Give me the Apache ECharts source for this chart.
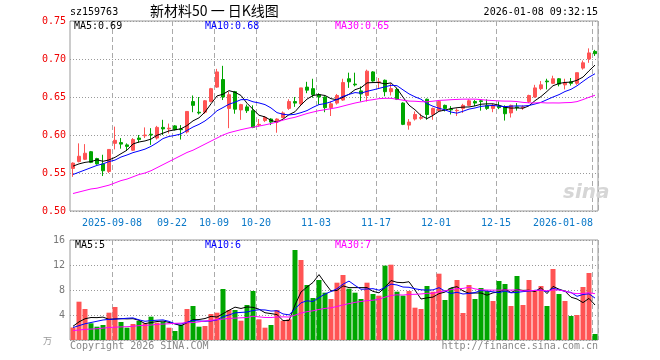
<!DOCTYPE html>
<html><head><meta charset="utf-8">
<script src="https://cdn.jsdelivr.net/npm/echarts@6/dist/echarts.min.js"></script>
<style>html,body{margin:0;padding:0;background:#fff}#c{width:660px;height:360px}</style>
</head><body><div id="c"></div>
<script>
const dates = [
'2025-08-28','2025-08-29','2025-09-01','2025-09-02','2025-09-03','2025-09-04','2025-09-05',
'2025-09-08','2025-09-09','2025-09-10','2025-09-11','2025-09-12',
'2025-09-15','2025-09-16','2025-09-17','2025-09-18','2025-09-19',
'2025-09-22','2025-09-23','2025-09-24','2025-09-25','2025-09-26',
'2025-09-29','2025-09-30',
'2025-10-09','2025-10-10',
'2025-10-13','2025-10-14','2025-10-15','2025-10-16','2025-10-17',
'2025-10-20','2025-10-21','2025-10-22','2025-10-23','2025-10-24',
'2025-10-27','2025-10-28','2025-10-29','2025-10-30','2025-10-31',
'2025-11-03','2025-11-04','2025-11-05','2025-11-06','2025-11-07',
'2025-11-10','2025-11-11','2025-11-12','2025-11-13','2025-11-14',
'2025-11-17','2025-11-18','2025-11-19','2025-11-20','2025-11-21',
'2025-11-24','2025-11-25','2025-11-26','2025-11-27','2025-11-28',
'2025-12-01','2025-12-02','2025-12-03','2025-12-04','2025-12-05',
'2025-12-08','2025-12-09','2025-12-10','2025-12-11','2025-12-12',
'2025-12-15','2025-12-16','2025-12-17','2025-12-18','2025-12-19',
'2025-12-22','2025-12-23','2025-12-24','2025-12-25','2025-12-26',
'2025-12-29','2025-12-30','2025-12-31',
'2026-01-05','2026-01-06','2026-01-07','2026-01-08'];

const openP = [0.556,0.565,0.568,0.578,0.569,0.562,0.552,0.589,0.590,0.587,
0.580,0.596,0.599,0.601,0.596,0.610,0.608,0.612,0.608,0.604,
0.644,0.630,0.630,0.644,0.663,0.673,0.635,0.657,0.633,0.637,
0.632,0.613,0.619,0.621,0.617,0.623,0.635,0.644,0.641,0.663,
0.661,0.653,0.650,0.636,0.642,0.646,0.674,0.667,0.658,0.652,
0.683,0.669,0.672,0.657,0.660,0.642,0.613,0.621,0.622,0.647,
0.627,0.632,0.639,0.634,0.632,0.635,0.639,0.644,0.645,0.639,
0.635,0.638,0.637,0.629,0.637,0.636,0.644,0.650,0.661,0.671,
0.668,0.674,0.666,0.670,0.668,0.688,0.700,0.710];
const closeP = [0.563,0.572,0.576,0.564,0.562,0.553,0.581,0.593,0.588,0.585,
0.594,0.594,0.600,0.600,0.610,0.608,0.609,0.607,0.607,0.631,
0.639,0.629,0.645,0.661,0.683,0.650,0.653,0.634,0.640,0.632,
0.610,0.614,0.623,0.617,0.621,0.629,0.644,0.642,0.662,0.659,
0.653,0.650,0.636,0.641,0.652,0.669,0.670,0.666,0.654,0.684,
0.671,0.670,0.657,0.661,0.647,0.614,0.617,0.627,0.623,0.627,
0.635,0.644,0.635,0.633,0.6325,0.639,0.645,0.642,0.644,0.635,
0.639,0.636,0.628,0.639,0.636,0.637,0.652,0.662,0.666,0.670,
0.674,0.667,0.669,0.668,0.682,0.695,0.708,0.707];
const lowP = [0.545,0.564,0.567,0.563,0.561,0.546,0.550,0.581,0.582,0.580,
0.579,0.590,0.596,0.587,0.594,0.600,0.602,0.606,0.594,0.602,
0.630,0.627,0.628,0.643,0.662,0.646,0.609,0.628,0.620,0.629,
0.609,0.611,0.617,0.613,0.603,0.622,0.633,0.637,0.639,0.655,
0.649,0.640,0.630,0.625,0.640,0.645,0.662,0.664,0.644,0.644,
0.670,0.662,0.651,0.652,0.646,0.613,0.607,0.619,0.620,0.620,
0.620,0.631,0.631,0.627,0.625,0.629,0.638,0.638,0.632,0.633,
0.630,0.634,0.619,0.623,0.632,0.633,0.642,0.649,0.659,0.660,
0.667,0.664,0.660,0.665,0.666,0.686,0.695,0.704];
const highP = [0.564,0.589,0.588,0.579,0.570,0.574,0.581,0.611,0.596,0.589,
0.596,0.600,0.610,0.609,0.612,0.620,0.615,0.613,0.613,0.631,
0.652,0.650,0.646,0.662,0.687,0.691,0.657,0.658,0.641,0.640,
0.639,0.621,0.625,0.622,0.622,0.631,0.647,0.650,0.662,0.670,
0.674,0.655,0.651,0.644,0.654,0.674,0.682,0.682,0.664,0.686,
0.684,0.675,0.673,0.668,0.662,0.643,0.621,0.631,0.628,0.648,
0.636,0.646,0.640,0.638,0.635,0.641,0.647,0.646,0.647,0.647,
0.641,0.644,0.639,0.640,0.642,0.639,0.653,0.666,0.671,0.674,
0.678,0.675,0.674,0.675,0.682,0.698,0.714,0.712];

// volume, 万
const volume = [2.0,6.13,4.96,2.67,2.13,2.4,4.37,5.28,2.88,1.97,
2.56,3.04,2.67,3.73,2.77,2.93,1.97,1.44,2.4,4.96,
5.44,2.13,2.24,4.16,4.37,8.16,4.8,4.8,3.09,5.6,
7.84,3.31,1.97,2.4,4.8,3.09,3.31,14.4,12.8,8.8,
6.72,9.6,7.57,6.56,9.17,10.4,8.21,7.57,6.56,9.17,
7.36,7.09,11.9,12.05,7.73,7.09,7.84,5.17,4.96,8.64,
7.73,10.61,6.4,8.32,9.6,4.32,8.8,6.56,8.32,7.84,
6.24,9.44,8.96,5.44,10.24,5.6,9.6,7.84,8.64,5.44,
11.36,7.36,6.24,3.84,4.0,8.48,10.72,0.96];

// moving-average values before enough history exists
const ma5Early = [0.559,0.562,0.564,0.565];
const ma10Early = [0.548,0.551,0.554,0.557,0.560,0.562,0.565,0.567,0.571];
const ma30Early = [0.523,0.525,0.527,0.529,0.530,0.532,0.534,0.537,0.540,0.542,
0.545,0.548,0.550,0.553,0.557,0.561,0.565,0.569,0.573,0.577,
0.580,0.584,0.588,0.592,0.596,0.600,0.603,0.605,0.607];
const volMa5Early = [2.2,2.9,3.4,3.6];
const volMa10Early = [2.0,2.3,2.6,2.8,3.0,3.2,3.3,3.35,3.4];
const volMa30Early = [1.5,1.6,1.7,1.75,1.8,1.9,2.0,2.05,2.1,2.13,
2.2,2.3,2.35,2.4,2.5,2.55,2.6,2.67,2.7,2.75,
2.8,2.9,3.05,3.15,3.25,3.35,3.45,3.5,3.55];

const tickDates = ['2025-09-08','2025-09-22','2025-10-09','2025-10-20','2025-11-03','2025-11-17','2025-12-01','2025-12-15','2026-01-08'];
const tickLabels = ['2025-09-08','09-22','10-09','10-20','11-03','11-17','12-01','12-15','2026-01-08'];

const legendPrice = ['MA5:0.69','MA10:0.68','MA30:0.65'];
const legendVol = ['MA5:5','MA10:6','MA30:7'];

const RED = '#ff5454', GREEN = '#00a600';
const MONO = 'DejaVu Sans Mono';

function movingAvg(src, n, early) {
  return src.map((v, i) => {
    if (i < n - 1) return early[i];
    let s = 0;
    for (let k = i - n + 1; k <= i; k++) s += src[k];
    return s / n;
  });
}

const candles = dates.map((d, i) => [openP[i], closeP[i], lowP[i], highP[i]]);
const ma5 = movingAvg(closeP, 5, ma5Early);
const ma10 = movingAvg(closeP, 10, ma10Early);
const ma30 = movingAvg(closeP, 30, ma30Early);
const vma5 = movingAvg(volume, 5, volMa5Early);
const vma10 = movingAvg(volume, 10, volMa10Early);
const vma30 = movingAvg(volume, 30, volMa30Early);
const volData = volume.map((v, i) => ({
  value: v,
  itemStyle: { color: closeP[i] >= openP[i] ? RED : GREEN }
}));

const isTick = (idx, val) => tickDates.indexOf(val !== undefined ? val : dates[idx]) >= 0;

const vSplit = { show: true, interval: isTick, lineStyle: { color: '#aaa', type: [5, 3], width: 1 } };

const chart = echarts.init(document.getElementById('c'), null, { renderer: 'canvas' });
const lineS = (name, data, color, xi, yi) => ({
  name, type: 'line', data, xAxisIndex: xi, yAxisIndex: yi, symbol: 'none',
  showSymbol: false, smooth: false, lineStyle: { color, width: 1 }, z: 3, silent: true
});

chart.setOption({
  animation: false,
  backgroundColor: '#fff',
  grid: [
    { left: 70, top: 21, width: 528, height: 190, show: true, borderColor: '#999', borderWidth: 1, backgroundColor: 'transparent' },
    { left: 70, top: 240, width: 528, height: 100, show: true, borderColor: '#999', borderWidth: 1, backgroundColor: 'transparent' }
  ],
  xAxis: [
    { type: 'category', gridIndex: 0, data: dates, boundaryGap: true,
      axisLine: { show: false }, axisTick: { show: false },
      splitLine: vSplit,
      axisLabel: {
        show: true, interval: isTick, margin: 7, color: '#0a78c8',
        fontFamily: MONO, fontSize: 10, padding: [0, 6, 0, 0],
        formatter: (val) => {
          const k = tickDates.indexOf(val);
          if (k < 0) return '';
          return k === tickDates.length - 1 ? '{last|' + tickLabels[k] + '}' : tickLabels[k];
        },
        rich: { last: { padding: [0, 58, 0, 0], color: '#0a78c8', fontFamily: MONO, fontSize: 10 } }
      } },
    { type: 'category', gridIndex: 1, data: dates, boundaryGap: true,
      axisLine: { show: false }, axisTick: { show: false }, axisLabel: { show: false },
      splitLine: vSplit }
  ],
  yAxis: [
    { type: 'value', gridIndex: 0, min: 0.5, max: 0.75, interval: 0.05, scale: false,
      axisLine: { show: false }, axisTick: { show: false },
      axisLabel: { color: '#f00000', fontFamily: MONO, fontSize: 10, margin: 4, formatter: v => v.toFixed(2) },
      splitLine: { show: true, lineStyle: { color: '#999', type: [1, 2], width: 1 } } },
    { type: 'value', gridIndex: 1, min: 0, max: 16, interval: 4,
      axisLine: { show: false }, axisTick: { show: false },
      axisLabel: { color: '#777', fontFamily: MONO, fontSize: 10, margin: 5, formatter: v => v === 0 ? '' : String(v) },
      splitLine: { show: true, lineStyle: { color: '#999', type: [1, 2], width: 1 } } }
  ],
  series: [
    { name: 'K', type: 'candlestick', xAxisIndex: 0, yAxisIndex: 0, data: candles, barWidth: 4,
      itemStyle: { color: RED, color0: GREEN, borderColor: RED, borderColor0: GREEN, borderWidth: 1 }, z: 2 },
    lineS('MA5', ma5, '#000', 0, 0),
    lineS('MA10', ma10, '#0000ff', 0, 0),
    lineS('MA30', ma30, '#ff00ff', 0, 0),
    { name: 'VOL', type: 'bar', xAxisIndex: 1, yAxisIndex: 1, data: volData, barWidth: 5, z: 2 },
    lineS('VMA5', vma5, '#000', 1, 1),
    lineS('VMA10', vma10, '#0000ff', 1, 1),
    lineS('VMA30', vma30, '#ff00ff', 1, 1)
  ],
  graphic: [
    { type: 'text', left: 70, top: 7, style: { text: 'sz159763', font: '10px "' + MONO + '"', fill: '#000' } },
    { type: 'text', left: 150, top: 4, style: { text: '新材料50 一 日K线图', font: '14px "Noto Sans CJK SC"', fill: '#000' } },
    { type: 'text', right: 62, top: 7, style: { text: '2026-01-08 09:32:15', font: '10px "' + MONO + '"', fill: '#000' } },
    { type: 'text', left: 74, top: 21, style: { text: legendPrice[0], font: '10px "' + MONO + '"', fill: '#000' }, z: 10 },
    { type: 'text', left: 205, top: 21, style: { text: legendPrice[1], font: '10px "' + MONO + '"', fill: '#0000ff' }, z: 10 },
    { type: 'text', left: 335, top: 21, style: { text: legendPrice[2], font: '10px "' + MONO + '"', fill: '#ff00ff' }, z: 10 },
    { type: 'text', left: 75, top: 240, style: { text: legendVol[0], font: '10px "' + MONO + '"', fill: '#000' }, z: 10 },
    { type: 'text', left: 205, top: 240, style: { text: legendVol[1], font: '10px "' + MONO + '"', fill: '#0000ff' }, z: 10 },
    { type: 'text', left: 335, top: 240, style: { text: legendVol[2], font: '10px "' + MONO + '"', fill: '#ff00ff' }, z: 10 },
    { type: 'text', left: 563, top: 183, style: { text: 'sina', font: 'italic bold 20px "DejaVu Sans"', fill: '#d6d6d6' }, z: 1 },
    { type: 'text', left: 43, top: 336, style: { text: '万', font: '9px "Noto Sans CJK SC"', fill: '#999' } },
    { type: 'text', left: 70, top: 341, style: { text: 'Copyright 2026 SINA.COM', font: '10px "' + MONO + '"', fill: '#888' } },
    { type: 'text', right: 62, top: 341, style: { text: 'http://finance.sina.com.cn', font: '10px "' + MONO + '"', fill: '#888' } }
  ]
});
</script></body></html>
